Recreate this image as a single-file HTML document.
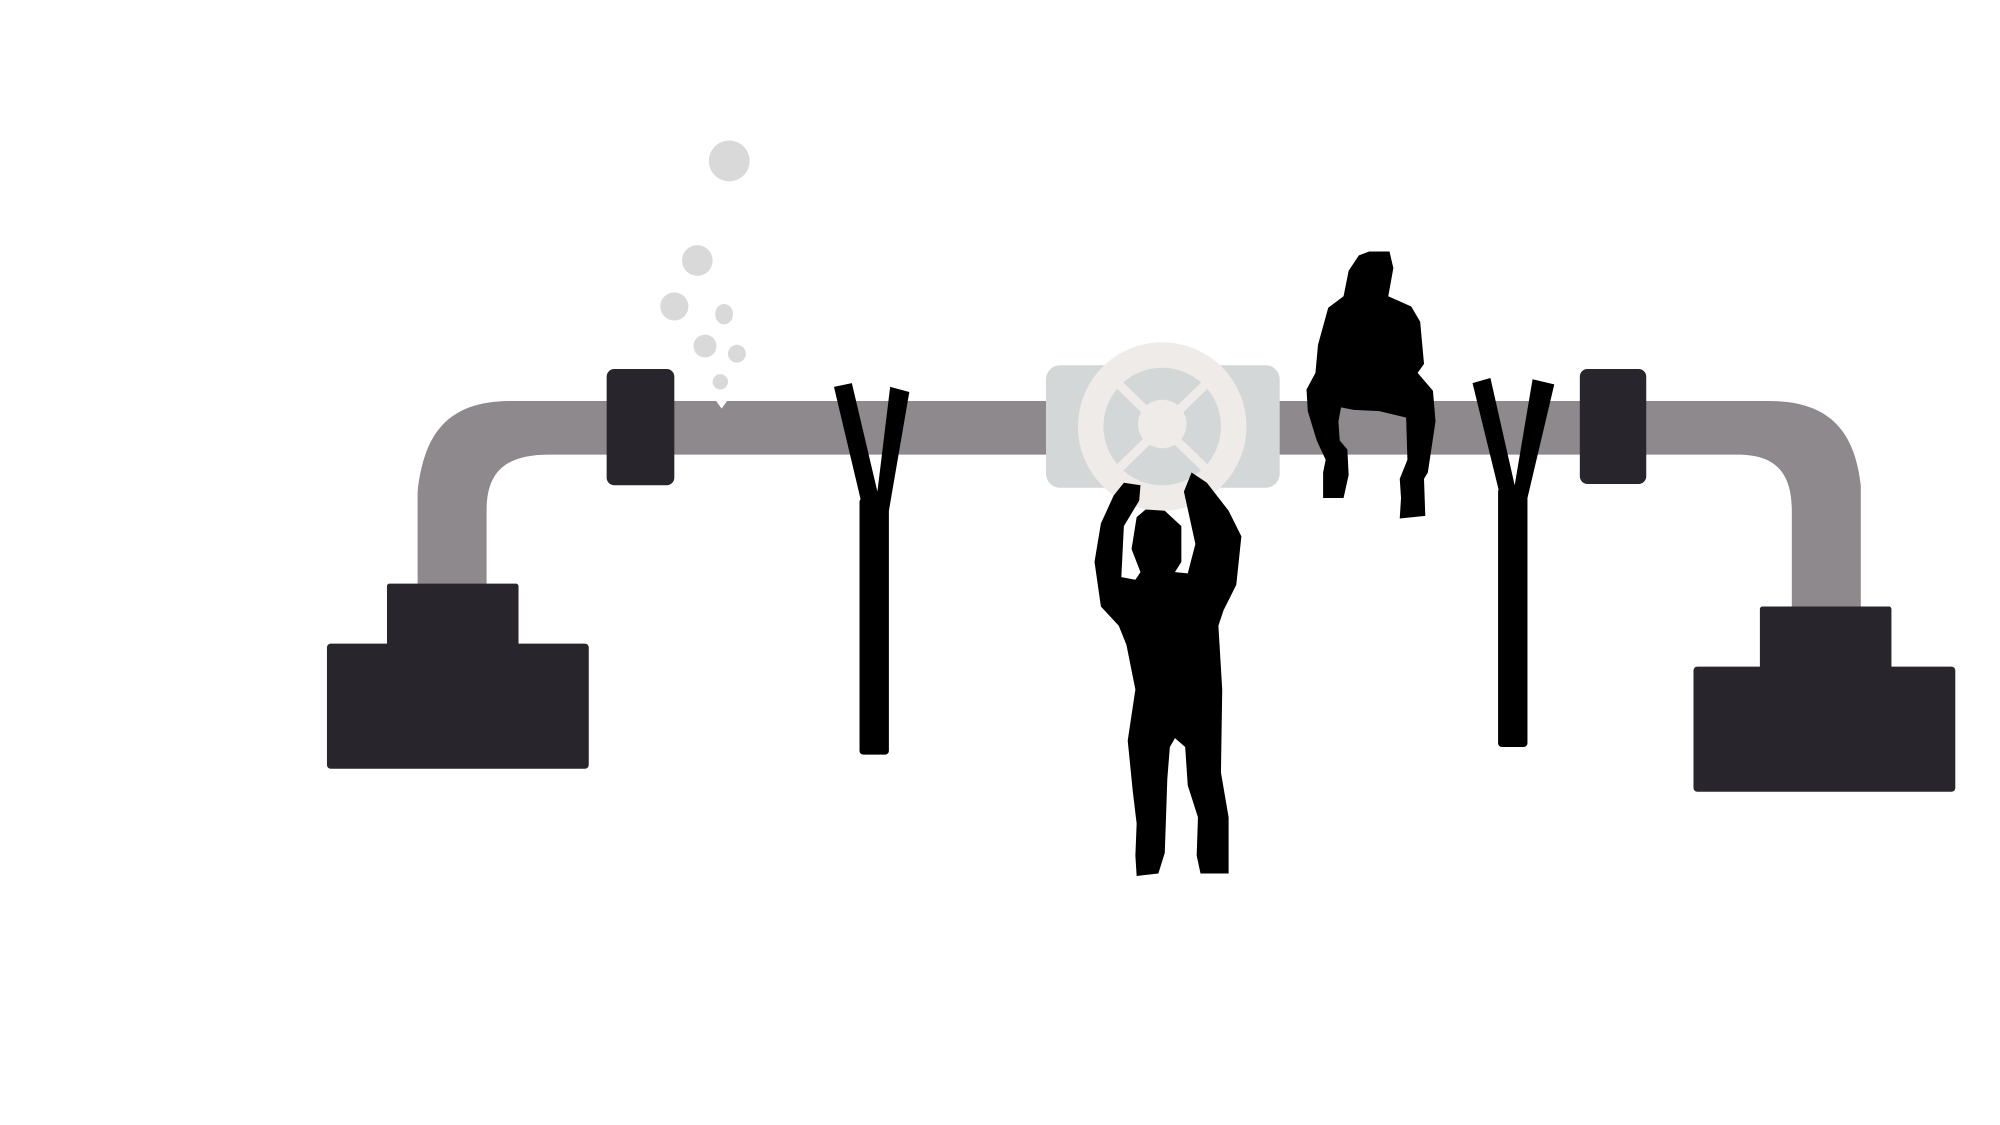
<!DOCTYPE html>
<html><head><meta charset="utf-8"><style>html,body{margin:0;padding:0;background:#fff}svg{display:block}</style></head>
<body>
<svg width="2000" height="1125" viewBox="0 0 1566 881" preserveAspectRatio="none" xmlns="http://www.w3.org/2000/svg">
<rect width="1566" height="881" fill="#fff"/>
<!-- pipe -->
<g fill="#8e898c">
<path d="M327 460 L327 385 C332 340 350 314 400 314 L1385 314 C1430 314 1452 335 1457 380 L1457 478 L1403 478 L1403 400 C1403 365 1385 356 1360 356 L430 356 C395 356 381 370 381 400 L381 460 Z"/>
</g>
<path d="M560 313 L565 320 L570 313 Z" fill="#fff"/>
<!-- bases -->
<g fill="#28262c">
<rect x="303" y="457" width="103" height="50" rx="2"/>
<rect x="256" y="504" width="205" height="98" rx="3"/>
<rect x="1378" y="475" width="103" height="50" rx="2"/>
<rect x="1326" y="522" width="205" height="98" rx="3"/>
<rect x="475" y="289" width="53" height="91" rx="6"/>
<rect x="1237" y="289" width="52" height="90" rx="6"/>
</g>
<!-- bubbles -->
<g fill="#d9d9d9">
<ellipse cx="571" cy="126" rx="16" ry="16"/>
<ellipse cx="546" cy="204" rx="12" ry="12"/>
<ellipse cx="528" cy="240" rx="11" ry="11"/>
<ellipse cx="567" cy="246" rx="7" ry="8"/>
<ellipse cx="552" cy="271" rx="9" ry="9"/>
<ellipse cx="577" cy="277" rx="7" ry="7"/>
<ellipse cx="564" cy="299" rx="6" ry="6"/>
</g>
<!-- valve -->
<rect x="819" y="286" width="183" height="96" rx="11" fill="#d3d7d8"/>
<circle cx="910" cy="334" r="56" fill="#d3d7d8" stroke="#eeebe9" stroke-width="20"/>
<g stroke="#eeebe9" stroke-width="7">
<line x1="875" y1="300" x2="945" y2="368"/>
<line x1="945" y1="300" x2="875" y2="368"/>
</g>
<circle cx="910" cy="332" r="19" fill="#eeebe9"/>
<!-- Y stands -->
<g fill="#000">
<rect x="673" y="390" width="23" height="201" rx="3"/>
<path d="M653 303 L667 300 L687 385 L697 303 L712 307 L696 400 L676 400 Z"/>
<rect x="1173" y="382" width="23" height="203" rx="3"/>
<path d="M1153 300 L1167 296 L1186 380 L1200 297 L1217 301 L1196 390 L1175 390 Z"/>
</g>
<!-- standing person -->
<path fill="#000" d="M880 378 L893 380 L892 392 L880 412 L878 452 L889 454 L893 448 L886 430 L890 405 L897 399 L912 400 L925 412 L925 440 L920 448 L930 449 L936 426 L927 385 L933 370 L945 378 L962 400 L972 420 L968 458 L958 478 L954 490 L957 540 L956 605 L962 640 L962 665 L962 684 L940 684 L937 670 L938 640 L930 615 L928 585 L920 578 L916 585 L914 610 L913 640 L912 668 L907 684 L890 686 L889 670 L890 645 L887 620 L883 580 L889 540 L882 505 L876 490 L862 475 L857 440 L862 410 L872 388 Z"/>
<!-- sitting person -->
<path fill="#000" d="M1072 197 L1088 197 L1091 210 L1087 232 L1105 240 L1112 252 L1115 285 L1110 292 L1122 306 L1124 330 L1118 370 L1115 375 L1116 404 L1096 406 L1097 390 L1096 375 L1102 360 L1101 327 L1080 322 L1060 321 L1050 319 L1048 330 L1049 345 L1055 352 L1056 372 L1052 390 L1036 390 L1036 370 L1038 360 L1031 345 L1024 322 L1023 305 L1030 292 L1032 270 L1040 241 L1052 232 L1056 212 L1064 200 Z"/>
</svg>
</body></html>
